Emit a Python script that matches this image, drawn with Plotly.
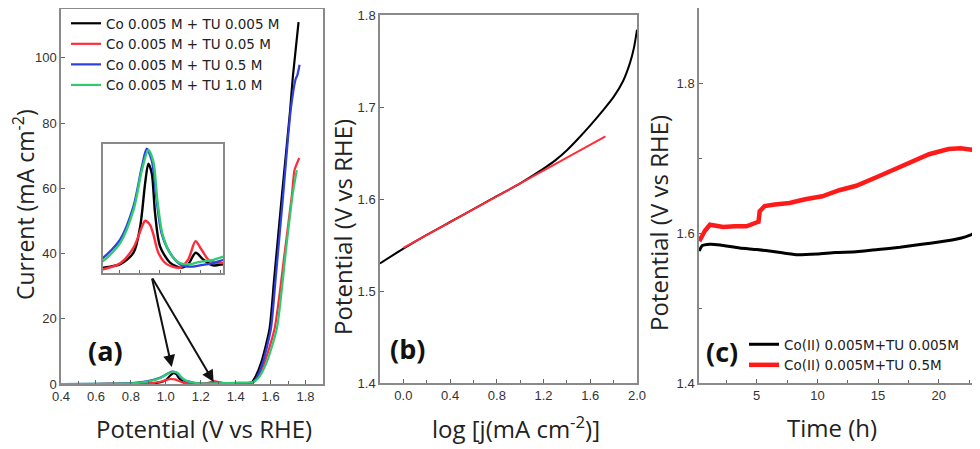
import plotly.graph_objects as go

# the page has an 8px body margin; the figure is sized to fill the rest of the 980x449 window
OFF = 8
W, H = 980 - OFF, 449 - OFF

# ---------------- Panel (a) data: LSV curves ----------------
a_black_v = [0.40, 0.60, 0.75, 0.82, 0.905, 0.97, 1.003, 1.027, 1.043, 1.06, 1.076, 1.10, 1.149, 1.206, 1.239, 1.276, 1.312, 1.361, 1.413, 1.46, 1.49, 1.513, 1.547, 1.594, 1.62, 1.665, 1.712, 1.727, 1.76]
a_black_i = [0.00, 0.00, 0.02, 0.05, 0.16, 0.52, 1.35, 2.70, 3.33, 3.02, 1.77, 0.73, 0.21, 0.05, 0.16, 0.52, 0.31, 0.12, 0.16, 0.2, 0.4, 2.2, 6.7, 17.0, 32.0, 58.0, 84.0, 94.0, 111.0]

a_red_v = [0.40, 0.60, 0.75, 0.82, 0.905, 0.97, 1.011, 1.027, 1.051, 1.068, 1.092, 1.133, 1.198, 1.239, 1.275, 1.304, 1.345, 1.413, 1.46, 1.50, 1.527, 1.566, 1.623, 1.68, 1.722, 1.737, 1.764]
a_red_i = [0.00, 0.00, 0.02, 0.00, 0.19, 0.68, 1.33, 1.53, 1.40, 1.09, 0.52, 0.16, 0.05, 0.31, 0.88, 0.62, 0.26, 0.19, 0.2, 0.5, 2.2, 6.7, 17.0, 40.0, 58.0, 65.6, 69.3]

a_blue_v = [0.40, 0.60, 0.75, 0.82, 0.905, 0.97, 1.011, 1.035, 1.06, 1.084, 1.108, 1.149, 1.198, 1.247, 1.296, 1.361, 1.413, 1.46, 1.50, 1.523, 1.556, 1.602, 1.63, 1.672, 1.715, 1.745, 1.752, 1.766]
a_blue_i = [0.00, 0.03, 0.12, 0.36, 0.94, 1.98, 3.22, 3.80, 3.43, 2.18, 1.14, 0.52, 0.16, 0.08, 0.12, 0.19, 0.29, 0.3, 0.6, 2.2, 6.7, 17.0, 33.0, 58.0, 84.0, 93.8, 94.5, 97.9]

a_green_v = [0.40, 0.60, 0.75, 0.82, 0.905, 0.97, 1.011, 1.043, 1.068, 1.087, 1.113, 1.153, 1.198, 1.247, 1.296, 1.361, 1.413, 1.46, 1.50, 1.535, 1.578, 1.636, 1.69, 1.726, 1.75]
a_green_i = [0.00, 0.03, 0.10, 0.26, 0.83, 1.87, 3.12, 3.76, 3.38, 2.18, 1.09, 0.47, 0.19, 0.16, 0.23, 0.29, 0.40, 0.4, 0.6, 2.2, 6.7, 17.0, 42.0, 58.0, 65.6]

a_names = ["Co 0.005 M + TU 0.005 M", "Co 0.005 M + TU 0.05 M",
           "Co 0.005 M + TU 0.5 M", "Co 0.005 M + TU 1.0 M"]
a_colors = ["#000000", "#ff2d3c", "#2f3fe0", "#2ecc71"]
a_xticks = [0.4, 0.6, 0.8, 1.0, 1.2, 1.4, 1.6, 1.8]
a_yticks = [0, 20, 40, 60, 80, 100]

# ---------------- Panel (b) data: Tafel ----------------
b_black_x = [-0.2, 0.0, 0.2, 0.4, 0.6, 0.8, 1.0, 1.2, 1.3, 1.4, 1.5, 1.6, 1.7, 1.8, 1.88, 1.94, 1.975, 2.0]
b_black_y = [1.530, 1.546, 1.561, 1.575, 1.589, 1.603, 1.617, 1.633, 1.642, 1.653, 1.666, 1.680, 1.695, 1.711, 1.728, 1.748, 1.765, 1.784]
b_fit_x = [0.0, 1.73]
b_fit_y = [1.547, 1.668]
b_xticks = [0.0, 0.4, 0.8, 1.2, 1.6, 2.0]
b_yticks = [1.4, 1.5, 1.6, 1.7, 1.8]

# ---------------- Panel (c) data: chronopotentiometry ----------------
c_black_t = [0.27, 0.5, 1.15, 2.0, 3.6, 5.0, 6.5, 8.26, 10.0, 11.5, 13.2, 15.0, 16.8, 18.6, 20.0, 21.5, 22.7, 22.9]
c_black_v = [1.576, 1.583, 1.585, 1.584, 1.580, 1.578, 1.575, 1.571, 1.572, 1.574, 1.575, 1.578, 1.581, 1.585, 1.588, 1.592, 1.598, 1.600]
c_red_t = [0.27, 0.74, 1.15, 2.25, 3.2, 4.16, 4.98, 5.15, 5.25, 5.66, 6.5, 7.71, 9.0, 10.4, 11.8, 13.2, 15.1, 17.3, 19.2, 20.8, 21.8, 22.7, 22.9]
c_red_v = [1.589, 1.603, 1.611, 1.608, 1.609, 1.609, 1.614, 1.615, 1.629, 1.636, 1.638, 1.640, 1.645, 1.649, 1.657, 1.663, 1.676, 1.692, 1.705, 1.712, 1.713, 1.711, 1.712]
c_names = ["Co(II) 0.005M+TU 0.005M", "Co(II) 0.005M+TU 0.5M"]
c_xticks = [5, 10, 15, 20]
c_yticks = [1.4, 1.6, 1.8]


def px_x(p):
    return max(0.0, min(1.0, (p - OFF) / W))


def px_y(p):
    return max(0.0, min(1.0, 1 - (p - OFF) / H))


fig = go.Figure()

# panel (a) main + inset
for v, i, n, c in zip([a_black_v, a_red_v, a_blue_v, a_green_v],
                      [a_black_i, a_red_i, a_blue_i, a_green_i], a_names, a_colors):
    fig.add_trace(go.Scatter(x=v, y=i, mode="lines", name=n, xaxis="x", yaxis="y",
                             line=dict(color=c, width=2.2, shape="spline", smoothing=0.6),
                             legend="legend"))
for v, i, n, c in zip([a_black_v, a_red_v, a_blue_v, a_green_v],
                      [a_black_i, a_red_i, a_blue_i, a_green_i], a_names, a_colors):
    fig.add_trace(go.Scatter(x=v, y=i, mode="lines", name=n, xaxis="x4", yaxis="y4",
                             line=dict(color=c, width=2.4, shape="spline", smoothing=0.8),
                             showlegend=False))

# panel (b)
fig.add_trace(go.Scatter(x=b_black_x, y=b_black_y, mode="lines", xaxis="x2", yaxis="y2",
                         line=dict(color="#000000", width=2, shape="spline", smoothing=0.8),
                         showlegend=False))
fig.add_trace(go.Scatter(x=b_fit_x, y=b_fit_y, mode="lines", xaxis="x2", yaxis="y2",
                         line=dict(color="#ff2d3c", width=2), showlegend=False))

# panel (c)
fig.add_trace(go.Scatter(x=c_black_t, y=c_black_v, mode="lines", name=c_names[0], xaxis="x3", yaxis="y3",
                         line=dict(color="#000000", width=3, shape="spline", smoothing=0.5),
                         legend="legend2"))
fig.add_trace(go.Scatter(x=c_red_t, y=c_red_v, mode="lines", name=c_names[1], xaxis="x3", yaxis="y3",
                         line=dict(color="#ff1a1a", width=4.5), legend="legend2"))

tickfont = dict(family="Liberation Sans, Arial", size=13, color="#333333")
axis_common = dict(showline=True, mirror=True, linecolor="#8a8a8a", linewidth=1.5,
                   ticks="inside", ticklen=4, tickcolor="#666666", showgrid=False,
                   zeroline=False, tickfont=tickfont, automargin=False,
                   ticklabeloverflow="allow")
legend_font = dict(family="DejaVu Sans", size=13.5, color="#222222")

fig.update_layout(
    width=W, height=H, margin=dict(l=0, r=0, t=0, b=0, autoexpand=False),
    paper_bgcolor="white", plot_bgcolor="white",
    xaxis=dict(domain=[px_x(61), px_x(323)], range=[0.4, 1.9], anchor="y",
               tickvals=a_xticks, ticktext=[f"{t:.1f}" for t in a_xticks],
               minor=dict(ticks="inside", dtick=0.1, tick0=0.4, ticklen=3, tickcolor="#666666"),
               **axis_common),
    yaxis=dict(domain=[px_y(384), px_y(9)], range=[0, 115], anchor="x",
               tickvals=a_yticks, ticktext=[str(t) for t in a_yticks],
               **axis_common),
    xaxis2=dict(domain=[px_x(380), px_x(637)], range=[-0.2, 2.0], anchor="y2",
                tickvals=b_xticks, ticktext=[f"{t:.1f}" for t in b_xticks],
                minor=dict(ticks="inside", dtick=0.2, tick0=0.0, ticklen=3, tickcolor="#666666"),
                **axis_common),
    yaxis2=dict(domain=[px_y(383), px_y(15)], range=[1.4, 1.8], anchor="x2",
                tickvals=b_yticks, ticktext=[f"{t:.1f}" for t in b_yticks],
                **axis_common),
    xaxis3=dict(domain=[px_x(699), px_x(974)], range=[0.25, 22.9], anchor="y3",
                tickvals=c_xticks, ticktext=[str(t) for t in c_xticks],
                minor=dict(ticks="inside", dtick=2.5, tick0=0, ticklen=3, tickcolor="#666666"),
                **axis_common),
    yaxis3=dict(domain=[px_y(383), px_y(8)], range=[1.4, 1.9], anchor="x3",
                tickvals=c_yticks, ticktext=[f"{t:.1f}" for t in c_yticks],
                minor=dict(ticks="inside", dtick=0.1, tick0=1.4, ticklen=3, tickcolor="#666666"),
                **axis_common),
    xaxis4=dict(domain=[px_x(103), px_x(223)], range=[0.82, 1.41], anchor="y4",
                showline=True, mirror=True, linecolor="#8a8a8a", linewidth=1.5,
                ticks="inside", ticklen=3, tickcolor="#666666", dtick=0.1, tick0=0.0,
                showticklabels=False, showgrid=False, zeroline=False, automargin=False),
    yaxis4=dict(domain=[px_y(273), px_y(144)], range=[-0.12, 3.95], anchor="x4",
                showline=True, mirror=True, linecolor="#8a8a8a", linewidth=1.5,
                ticks="", showticklabels=False, showgrid=False, zeroline=False, automargin=False),
    legend=dict(x=px_x(66), y=1.0, xanchor="left", yanchor="top",
                bgcolor="rgba(0,0,0,0)", borderwidth=0, font=legend_font,
                tracegroupgap=0, itemwidth=30),
    legend2=dict(x=px_x(744), y=px_y(329), xanchor="left", yanchor="top",
                 bgcolor="rgba(0,0,0,0)", borderwidth=0, font=legend_font,
                 tracegroupgap=0, itemwidth=30),
)

title_font = dict(family="Open Sans", size=24, color="#222222")
ytitle_font = dict(family="Open Sans", size=23, color="#222222")
label_font = dict(family="Open Sans", size=27, color="#111111")
annos = [
    dict(text="Potential (V vs RHE)", x=px_x(204), y=px_y(428), font=title_font),
    dict(text="log [j(mA cm<sup>-2</sup>)]", x=px_x(516), y=px_y(427), font=title_font),
    dict(text="Time (h)", x=px_x(832), y=px_y(427), font=title_font),
    dict(text="Current (mA cm<sup>-2</sup>)", x=px_x(24), y=px_y(205), font=ytitle_font, textangle=-90),
    dict(text="Potential (V vs RHE)", x=px_x(342), y=px_y(227), font=title_font, textangle=-90),
    dict(text="Potential (V vs RHE)", x=px_x(659), y=px_y(223), font=title_font, textangle=-90),
    dict(text="<b>(a)</b>", x=px_x(105), y=px_y(350), font=label_font),
    dict(text="<b>(b)</b>", x=px_x(407), y=px_y(348), font=label_font),
    dict(text="<b>(c)</b>", x=px_x(722), y=px_y(351), font=label_font),
]
for a in annos:
    fig.add_annotation(xref="paper", yref="paper", showarrow=False,
                       xanchor="center", yanchor="middle", **a)

# arrows from inset to peaks
fig.add_annotation(x=1.034, y=5.2, xref="x", yref="y", ax=-20, ay=-90, text="",
                   showarrow=True, arrowhead=2, arrowsize=1.2, arrowwidth=2, arrowcolor="#111111")
fig.add_annotation(x=1.274, y=0.6, xref="x", yref="y", ax=-62, ay=-105, text="",
                   showarrow=True, arrowhead=2, arrowsize=1.2, arrowwidth=2, arrowcolor="#111111")

fig.write_html("out.html")
